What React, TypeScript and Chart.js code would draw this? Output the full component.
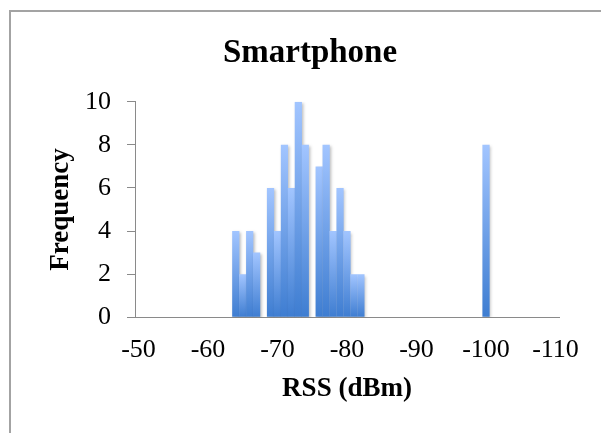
import React, { useEffect, useRef } from "react";
import { Chart, registerables } from "chart.js";

Chart.register(...registerables);

// ---- data ----
const CHART_TITLE = "Smartphone";
const X_TITLE = "RSS (dBm)";
const Y_TITLE = "Frequency";

const rssBins: number[] = [
  -50, -51, -52, -53, -54, -55, -56, -57, -58, -59,
  -60, -61, -62, -63, -64, -65, -66, -67, -68, -69,
  -70, -71, -72, -73, -74, -75, -76, -77, -78, -79,
  -80, -81, -82, -83, -84, -85, -86, -87, -88, -89,
  -90, -91, -92, -93, -94, -95, -96, -97, -98, -99,
  -100, -101, -102, -103, -104, -105, -106, -107, -108, -109,
  -110,
];

const frequency: number[] = [
  0, 0, 0, 0, 0, 0, 0, 0, 0, 0,
  0, 0, 0, 0, 4, 2, 4, 3, 0, 6,
  4, 8, 6, 10, 8, 0, 7, 8, 4, 6,
  4, 2, 2, 0, 0, 0, 0, 0, 0, 0,
  0, 0, 0, 0, 0, 0, 0, 0, 0, 0,
  8, 0, 0, 0, 0, 0, 0, 0, 0, 0,
  0,
];

const xTickLabels: string[] = ["-50", "-60", "-70", "-80", "-90", "-100", "-110"];
const yTicks: number[] = [0, 2, 4, 6, 8, 10];

const FONT = "'Liberation Serif', 'Times New Roman', serif";
const AXIS_GRAY = "#8a8a8a";
const BAR_TOP = "#a2c5ff";
const BAR_BOTTOM = "#3e7dd1";

const titlePlugin = {
  id: "customTitle",
  afterDraw(chart: any) {
    const ctx = chart.ctx;
    ctx.save();
    ctx.font = `bold 33px ${FONT}`;
    ctx.fillStyle = "#000";
    ctx.textAlign = "center";
    ctx.textBaseline = "alphabetic";
    ctx.fillText(CHART_TITLE, 310, 61.7);
    ctx.restore();
  },
};

const shadowPlugin = {
  id: "barShadow",
  beforeDatasetsDraw(chart: any) {
    const ctx = chart.ctx;
    ctx.save();
    ctx.shadowColor = "rgba(0,0,0,0.25)";
    ctx.shadowBlur = 3;
    ctx.shadowOffsetX = 1.5;
    ctx.shadowOffsetY = 1.5;
  },
  afterDatasetsDraw(chart: any) {
    chart.ctx.restore();
  },
};

export default function App() {
  const canvasRef = useRef<HTMLCanvasElement | null>(null);

  useEffect(() => {
    const canvas = canvasRef.current;
    if (!canvas) return;
    const chart = new Chart(canvas, {
      type: "bar",
      data: {
        labels: rssBins.map((v) => String(v)),
        datasets: [
          {
            label: Y_TITLE,
            data: frequency,
            borderWidth: 0,
            barPercentage: 1.04,
            categoryPercentage: 1,
            backgroundColor: (c: any) => {
              const chart = c.chart;
              if (!chart.chartArea || c.type !== "data") return BAR_TOP;
              const ys = chart.scales.y;
              const top = ys.getPixelForValue(c.raw);
              const base = ys.getPixelForValue(0);
              if (!isFinite(top) || base - top < 1) return BAR_BOTTOM;
              const g = chart.ctx.createLinearGradient(0, top, 0, base);
              g.addColorStop(0, BAR_TOP);
              g.addColorStop(1, BAR_BOTTOM);
              return g;
            },
          },
        ],
      },
      options: {
        animation: false,
        responsive: false,
        maintainAspectRatio: false,
        devicePixelRatio: 1,
        layout: { padding: { top: 101.7, left: 0, right: 42, bottom: 0 } },
        plugins: {
          legend: { display: false },
          title: { display: false },
          tooltip: { enabled: false },
        },
        scales: {
          x: {
            type: "category",
            grid: { display: false, drawTicks: false },
            border: { display: true, color: AXIS_GRAY, width: 1 },
            ticks: {
              autoSkip: false,
              maxRotation: 0,
              minRotation: 0,
              padding: 17,
              color: "#000",
              font: { family: FONT, size: 26 },
              callback: (_v: any, idx: number) => {
                const lab = String(rssBins[idx]);
                return xTickLabels.includes(lab) ? lab : null;
              },
            },
            title: {
              display: true,
              text: X_TITLE,
              color: "#000",
              font: { family: FONT, size: 27, weight: "bold" },
              padding: { top: 0, bottom: 27.9 },
            },
            afterFit: (s: any) => {
              s.height = 433 - 317.3;
            },
          },
          y: {
            min: 0,
            max: 10,
            afterBuildTicks: (s: any) => {
              s.ticks = yTicks.map((v) => ({ value: v }));
            },
            grid: {
              display: true,
              drawOnChartArea: false,
              drawTicks: true,
              tickLength: 8,
              color: AXIS_GRAY,
              lineWidth: 1,
            },
            border: { display: true, color: AXIS_GRAY, width: 1 },
            ticks: {
              padding: 16,
              color: "#000",
              font: { family: FONT, size: 26 },
            },
            title: {
              display: true,
              text: Y_TITLE,
              color: "#000",
              font: { family: FONT, size: 27, weight: "bold" },
              padding: { top: 44.8, bottom: 0 },
            },
            afterFit: (s: any) => {
              s.width = 135;
            },
          },
        },
      },
      plugins: [shadowPlugin, titlePlugin],
    } as any);
    return () => chart.destroy();
  }, []);

  return (
    <div
      style={{
        position: "fixed",
        left: 0,
        top: 0,
        width: 601,
        height: 433,
        overflow: "hidden",
        background: "#fff",
      }}
    >
      <div
        style={{
          position: "absolute",
          left: 9,
          top: 10,
          width: 700,
          height: 600,
          border: "2px solid #a3a3a3",
          boxSizing: "border-box",
        }}
      />
      <canvas
        ref={canvasRef}
        width={601}
        height={433}
        style={{ position: "absolute", left: 0, top: 0, width: 601, height: 433 }}
      />
    </div>
  );
}
